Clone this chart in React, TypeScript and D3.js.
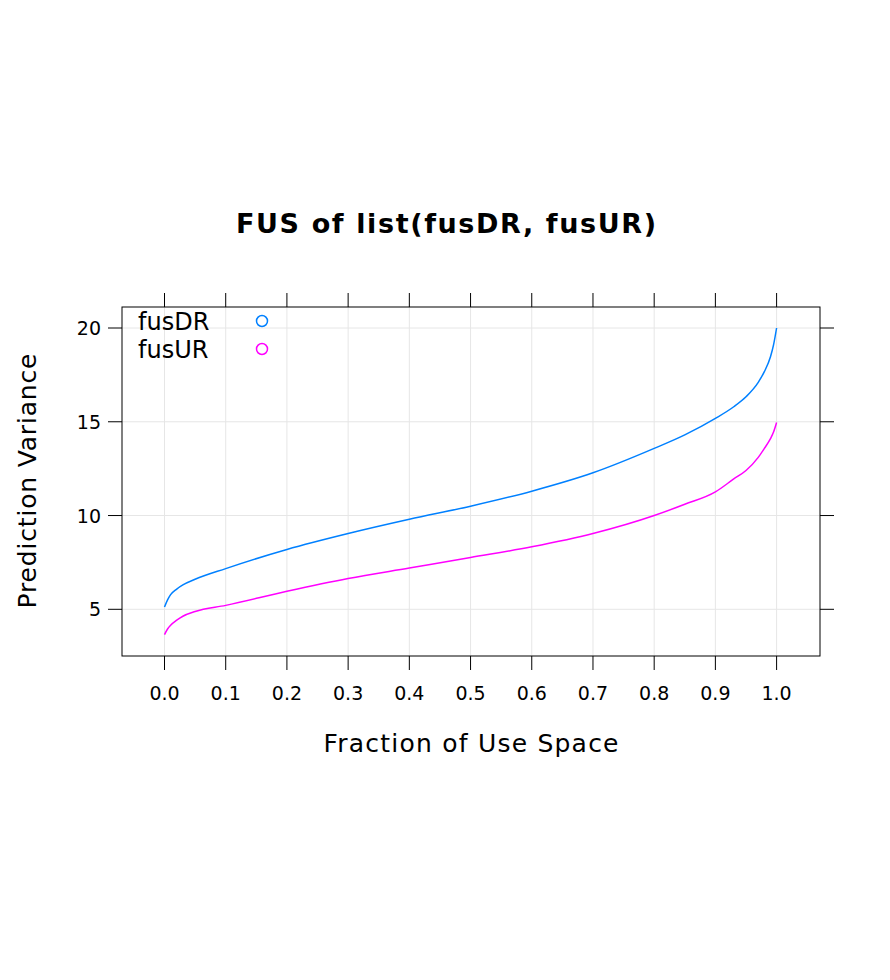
import React from 'react';
import * as d3 from 'd3';

const fracs = [0, 0.005, 0.01, 0.02, 0.03, 0.05, 0.1, 0.2, 0.3, 0.4, 0.5, 0.6, 0.7, 0.8, 0.85, 0.9, 0.93, 0.95, 0.97, 0.98, 0.99, 0.995, 1.0];
const fusDR = [5.12, 5.5, 5.78, 6.08, 6.3, 6.6, 7.17, 8.19, 9.04, 9.8, 10.5, 11.3, 12.28, 13.58, 14.3, 15.18, 15.8, 16.33, 17.1, 17.67, 18.47, 19.1, 20.0];
const fusUR = [3.65, 3.95, 4.15, 4.42, 4.63, 4.88, 5.21, 5.96, 6.64, 7.2, 7.76, 8.33, 9.04, 10.0, 10.6, 11.26, 11.95, 12.4, 13.1, 13.58, 14.1, 14.45, 14.96];
const xTicks = [0, 0.1, 0.2, 0.3, 0.4, 0.5, 0.6, 0.7, 0.8, 0.9, 1.0];
const yTicks = [5, 10, 15, 20];
const seriesNames = ['fusDR', 'fusUR'];
const colors = ['#0080ff', '#ff00ff'];

export default function App() {
  const W = 890, H = 980;
  const left = 122, right = 820, top = 307, bottom = 656;
  const x = d3.scaleLinear().domain([0, 1]).range([164.5, 776.6]);
  const y = d3.scaleLinear().domain([5, 20]).range([609.3, 328]);
  const line = d3.line<number>().x((_, i) => x(fracs[i])).y(d => y(d)).curve(d3.curveMonotoneX);
  const font = 'DejaVu Sans, sans-serif';
  return (
    <svg width={W} height={H} style={{ position: 'absolute', left: 0, top: 0 }} fontFamily={font}>
      <rect width={W} height={H} fill="white" />
      <text x={446} y={233} textAnchor="middle" fontSize={27} fontWeight="bold" textLength={420}>FUS of list(fusDR, fusUR)</text>
      {xTicks.map(t => (
        <line key={'vx' + t} x1={x(t)} x2={x(t)} y1={top} y2={bottom} stroke="#e6e6e6" />
      ))}
      {yTicks.map(t => (
        <line key={'hy' + t} x1={left} x2={right} y1={y(t)} y2={y(t)} stroke="#e6e6e6" />
      ))}
      {[fusDR, fusUR].map((s, i) => (
        <path key={i} d={line(s) || ''} fill="none" stroke={colors[i]} strokeWidth={1.5} />
      ))}
      <rect x={left} y={top} width={right - left} height={bottom - top} fill="none" stroke="black" />
      {xTicks.map(t => (
        <g key={'tx' + t}>
          <line x1={x(t)} x2={x(t)} y1={bottom} y2={bottom + 14} stroke="black" />
          <line x1={x(t)} x2={x(t)} y1={top} y2={top - 14} stroke="black" />
          <text x={x(t)} y={700} textAnchor="middle" fontSize={19}>{t.toFixed(1)}</text>
        </g>
      ))}
      {yTicks.map(t => (
        <g key={'ty' + t}>
          <line x1={left} x2={left - 14} y1={y(t)} y2={y(t)} stroke="black" />
          <line x1={right} x2={right + 14} y1={y(t)} y2={y(t)} stroke="black" />
          <text x={101} y={y(t) + 7} textAnchor="end" fontSize={19}>{t}</text>
        </g>
      ))}
      <text x={471} y={752} textAnchor="middle" fontSize={25} textLength={295}>Fraction of Use Space</text>
      <text transform="translate(36,481) rotate(-90)" textAnchor="middle" fontSize={25} textLength={255}>Prediction Variance</text>
      {seriesNames.map((n, i) => (
        <g key={n}>
          <text x={138} y={330 + i * 28} fontSize={24}>{n}</text>
          <circle cx={262} cy={321 + i * 28} r={5.5} fill="none" stroke={colors[i]} strokeWidth={1.5} />
        </g>
      ))}
    </svg>
  );
}
